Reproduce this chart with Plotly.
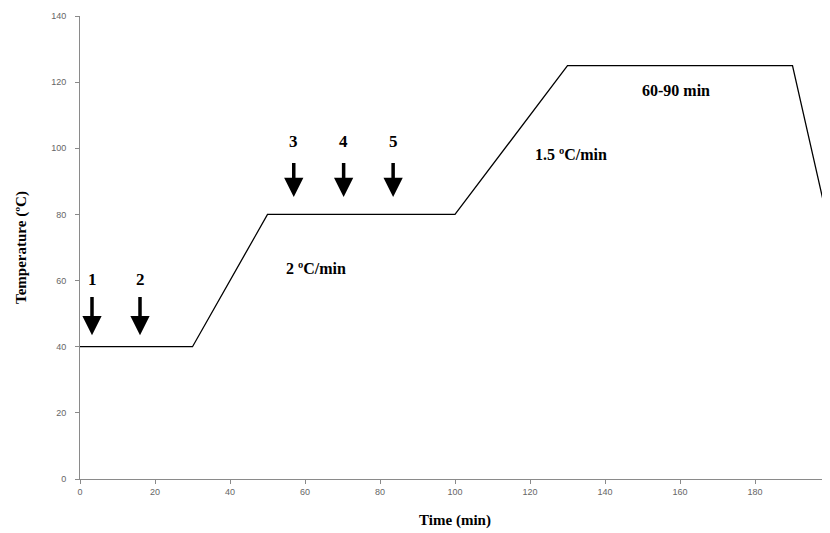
import plotly.graph_objects as go

# temperature profile
time_min = [0, 30, 50, 100, 130, 190, 200]
temp_c = [40, 40, 80, 80, 125, 125, 75]

# sampling arrows
arrow_labels = ["1", "2", "3", "4", "5"]
arrow_x = [3.2, 16, 57, 70.3, 83.5]
arrow_tip = [43.5, 43.5, 85.3, 85.3, 85.3]
arrow_top = [55.5, 55.5, 96, 96, 96]
label_y = [60.3, 60.3, 102, 102, 102]

# rate / hold notes
note_text = ["2 ºC/min", "1.5 ºC/min", "60-90 min"]
note_x = [63, 131, 159]
note_y = [63.8, 98, 117.6]

serif = "Liberation Serif"

fig = go.Figure()
fig.add_trace(go.Scatter(x=time_min, y=temp_c, mode="lines",
                         line=dict(color="black", width=1.3),
                         showlegend=False, hoverinfo="skip"))

annotations = []
for lab, x, tip, top, ly in zip(arrow_labels, arrow_x, arrow_tip, arrow_top, label_y):
    annotations.append(dict(x=x, y=tip, ax=x, ay=top, xref="x", yref="y",
                            axref="x", ayref="y", text="", showarrow=True,
                            arrowhead=2, arrowsize=1.1, arrowwidth=3.5,
                            arrowcolor="black"))
    annotations.append(dict(x=x, y=ly, xref="x", yref="y", text="<b>%s</b>" % lab,
                            showarrow=False,
                            font=dict(family=serif, size=17, color="black")))
for t, x, y in zip(note_text, note_x, note_y):
    annotations.append(dict(x=x, y=y, xref="x", yref="y", text="<b>%s</b>" % t,
                            showarrow=False,
                            font=dict(family=serif, size=16, color="black")))

# page body has an 8px margin, so the figure is sized to fit inside the window
fig.update_layout(
    width=822, height=525,
    margin=dict(l=72, r=0, t=8, b=54),
    paper_bgcolor="white", plot_bgcolor="white",
    annotations=annotations,
    xaxis=dict(range=[0, 200], tickmode="linear", tick0=0, dtick=20,
               showgrid=False, zeroline=False, showline=True, automargin=False,
               linecolor="#8a8a8a", linewidth=1, ticks="outside",
               ticklen=4, tickcolor="#8a8a8a",
               tickfont=dict(family="Liberation Sans", size=9, color="#666"),
               title=dict(text="<b>Time (min)</b>", standoff=18,
                          font=dict(family=serif, size=15, color="black"))),
    yaxis=dict(range=[0, 140], tickmode="linear", tick0=0, dtick=20,
               showgrid=False, zeroline=False, showline=True, automargin=False,
               linecolor="#8a8a8a", linewidth=1, ticks="outside",
               ticklen=4, tickcolor="#8a8a8a", ticklabelstandoff=7,
               tickfont=dict(family="Liberation Sans", size=9, color="#666"),
               title=dict(text="<b>Temperature (ºC)</b>", standoff=20,
                          font=dict(family=serif, size=15, color="black"))),
)

fig.write_html("out.html")
